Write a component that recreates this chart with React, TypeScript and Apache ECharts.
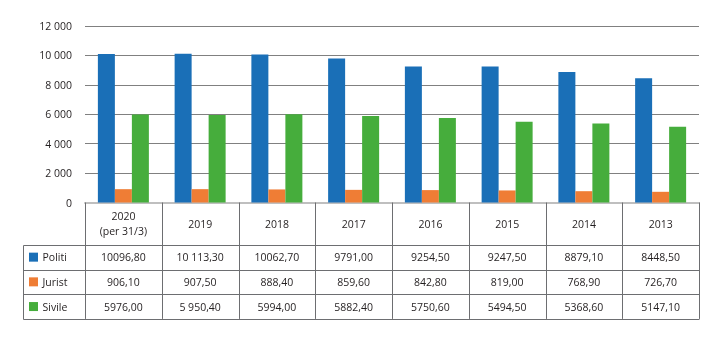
import React, { useEffect, useRef } from "react";
import * as echarts from "echarts";

const categories = ["2020\n(per 31/3)", "2019", "2018", "2017", "2016", "2015", "2014", "2013"];
const seriesNames = ["Politi", "Jurist", "Sivile"];
const politiLabels = ["10096,80", "10 113,30", "10062,70", "9791,00", "9254,50", "9247,50", "8879,10", "8448,50"];
const juristLabels = ["906,10", "907,50", "888,40", "859,60", "842,80", "819,00", "768,90", "726,70"];
const sivileLabels = ["5976,00", "5 950,40", "5994,00", "5882,40", "5750,60", "5494,50", "5368,60", "5147,10"];
const yMin = 0;
const yMax = 12000;
const yInterval = 2000;

const colors = ["#1a6fb7", "#ef7d35", "#46ad3c"];
const FONT = "'Open Sans', 'Noto Sans', sans-serif";
const TEXT = "#231f20";
const LINE = "#6d6e71";

const toNum = (s: string) => Number(s.replace(/\s/g, "").replace(",", "."));
const labelRows = [politiLabels, juristLabels, sivileLabels];

export default function App() {
  const ref = useRef<HTMLDivElement>(null);
  useEffect(() => {
    if (!ref.current) return;
    const chart = echarts.init(ref.current, undefined, { renderer: "svg" });
    chart.setOption({
      animation: false,
      grid: { left: 85, right: 20, top: 26, bottom: 138.5, containLabel: false },
      xAxis: {
        type: "category",
        data: categories,
        axisLabel: { show: false },
        axisTick: { show: false },
        axisLine: { show: true, lineStyle: { color: "#bfbfbf", width: 2 } },
        splitLine: { show: false },
      },
      yAxis: {
        type: "value",
        min: yMin,
        max: yMax,
        interval: yInterval,
        axisLine: { show: false },
        axisTick: { show: false },
        splitLine: { show: true, lineStyle: { color: "#808080", width: 1 } },
        axisLabel: {
          margin: 13,
          color: TEXT,
          fontFamily: FONT,
          fontSize: 10.5,
          formatter: (v: number) => String(v).replace(/\B(?=(\d{3})+(?!\d))/g, " "),
        },
      },
      series: seriesNames.map((name, k) => ({
        name,
        type: "bar",
        data: labelRows[k].map(toNum),
        barWidth: 17,
        barGap: "0%",
        itemStyle: { color: colors[k] },
      })),
    });

    const [c0x, y0] = chart.convertToPixel({ gridIndex: 0 }, [0, 0]) as number[];
    const [c1x] = chart.convertToPixel({ gridIndex: 0 }, [1, 0]) as number[];
    const band = c1x - c0x;
    const n = categories.length;
    const leftB = c0x - band / 2;
    const rightB = leftB + band * n;
    const headerH = 42.3;
    const rowH = 24.7;
    const tableLeft = 22.7;
    const rowTops = [0, 1, 2, 3].map((r) => y0 + headerH + r * rowH);
    const yEnd = rowTops[3];
    const px = (v: number) => Math.round(v) + 0.5;
    const g: any[] = [];

    for (let j = 0; j <= n; j++) {
      const x = px(leftB + j * band);
      g.push({ type: "line", shape: { x1: x, y1: y0, x2: x, y2: yEnd }, style: { stroke: LINE, lineWidth: 1 }, z: 10 });
    }
    g.push({ type: "line", shape: { x1: px(tableLeft), y1: px(rowTops[0]), x2: px(tableLeft), y2: px(yEnd) }, style: { stroke: LINE, lineWidth: 1 }, z: 10 });
    rowTops.forEach((yy) => {
      g.push({ type: "line", shape: { x1: px(tableLeft), y1: px(yy), x2: px(rightB), y2: px(yy) }, style: { stroke: LINE, lineWidth: 1 }, z: 10 });
    });
    categories.forEach((c, i) => {
      const cx = leftB + band * (i + 0.5);
      g.push({
        type: "text",
        x: cx,
        y: y0 + headerH / 2,
        style: { text: c, fill: TEXT, font: `10.5px ${FONT}`, align: "center", verticalAlign: "middle", lineHeight: 14.5 },
        z: 10,
      });
    });
    seriesNames.forEach((name, r) => {
      const cy = rowTops[r] + rowH / 2;
      g.push({ type: "rect", shape: { x: 29, y: cy - 4.5, width: 9, height: 9 }, style: { fill: colors[r] }, z: 10 });
      g.push({
        type: "text",
        x: 42.5,
        y: cy,
        style: { text: name, fill: TEXT, font: `10.5px ${FONT}`, align: "left", verticalAlign: "middle" },
        z: 10,
      });
      labelRows[r].forEach((s, i) => {
        g.push({
          type: "text",
          x: leftB + band * (i + 0.5),
          y: cy,
          style: { text: s, fill: TEXT, font: `10.5px ${FONT}`, align: "center", verticalAlign: "middle" },
          z: 10,
        });
      });
    });
    chart.setOption({ graphic: g });
    return () => chart.dispose();
  }, []);
  return <div ref={ref} style={{ position: "fixed", left: 0, top: 0, width: 719, height: 341 }} />;
}
